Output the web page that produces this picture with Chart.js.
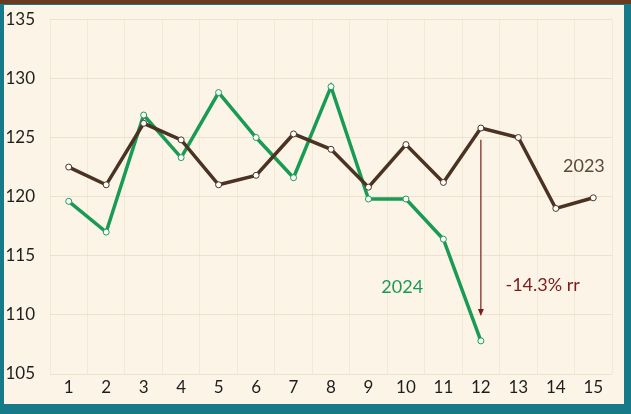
<!DOCTYPE html>
<html>
<head>
<meta charset="utf-8">
<script src="https://cdn.jsdelivr.net/npm/chart.js@4"></script>
<style>
  html, body { margin: 0; padding: 0; }
  body { width: 631px; height: 414px; background: #177a89; position: relative; overflow: hidden; }
  #topbar { position: absolute; left: 0; top: 0; width: 631px; height: 4px; background: #6a3a1f; }
  #panel { position: absolute; left: 4px; top: 5px; width: 620px; height: 399px; background: #fcf4e7; }
  canvas { position: absolute; left: 0; top: 0; }
</style>
</head>
<body>
<div id="topbar"></div>
<div id="panel"></div>
<canvas id="chart" width="631" height="414"></canvas>
<script>
  // ---- data ----
  const months = ["1","2","3","4","5","6","7","8","9","10","11","12","13","14","15"];
  const values2023 = [122.5, 121.0, 126.2, 124.8, 121.0, 121.8, 125.3, 124.0, 120.8, 124.4, 121.2, 125.8, 125.0, 119.0, 119.9];
  const values2024 = [119.6, 117.0, 126.9, 123.3, 128.8, 125.0, 121.6, 129.3, 119.8, 119.8, 116.4, 107.8];
  const yTicks = [105, 110, 115, 120, 125, 130, 135];

  const brown = "#4a3322";
  const green = "#1a9b55";
  const arrowRed = "#7a1c1c";
  const tickFont = { size: 17, family: "Lato, sans-serif" };

  /* ========= annotations (labels + arrow) ========= */
  const notes = {
    id: "notes",
    afterDatasetsDraw(chart) {
      const { ctx, scales: { x, y } } = chart;
      ctx.save();
      // arrow at point 12
      const ax = x.getPixelForValue(11);
      const y0 = y.getPixelForValue(124.8);
      const y1 = y.getPixelForValue(110.0);
      ctx.strokeStyle = arrowRed;
      ctx.fillStyle = arrowRed;
      ctx.lineWidth = 1.2;
      ctx.beginPath();
      ctx.moveTo(ax, y0);
      ctx.lineTo(ax, y1 - 4);
      ctx.stroke();
      ctx.beginPath();
      ctx.moveTo(ax, y1 + 1);
      ctx.lineTo(ax - 3, y1 - 6);
      ctx.lineTo(ax + 3, y1 - 6);
      ctx.closePath();
      ctx.fill();

      ctx.font = "18px Lato, sans-serif";
      ctx.textAlign = "center";
      ctx.textBaseline = "middle";
      ctx.fillStyle = "#5a4a3c";
      ctx.fillText("2023", x.getPixelForValue(13.75), y.getPixelForValue(122.6));
      ctx.fillStyle = green;
      ctx.fillText("2024", x.getPixelForValue(8.9), y.getPixelForValue(112.3));
      ctx.fillStyle = arrowRed;
      ctx.fillText("-14.3% rr", x.getPixelForValue(12.65), y.getPixelForValue(112.5));
      ctx.restore();
    }
  };

  new Chart(document.getElementById("chart"), {
    type: "line",
    data: {
      labels: months,
      datasets: [
        {
          label: "2023",
          data: values2023,
          borderColor: brown,
          borderWidth: 3.5,
          tension: 0,
          pointRadius: 3,
          pointBackgroundColor: "#ffffff",
          pointBorderColor: brown,
          pointBorderWidth: 1
        },
        {
          label: "2024",
          data: values2024,
          borderColor: green,
          borderWidth: 3.5,
          tension: 0,
          pointRadius: 3,
          pointBackgroundColor: "#ffffff",
          pointBorderColor: green,
          pointBorderWidth: 1
        }
      ]
    },
    options: {
      responsive: false,
      animation: false,
      layout: { padding: { top: 4, right: 19, left: 0, bottom: 0 } },
      plugins: { legend: { display: false }, tooltip: { enabled: false } },
      scales: {
        x: {
          offset: true,
          grid: { offset: true, color: "rgba(215,200,170,0.25)", drawTicks: false },
          border: { display: false },
          ticks: { color: "#1e1e1e", font: tickFont, padding: 3 },
          afterFit(s) { s.height = 40; }
        },
        y: {
          min: 105,
          max: 135,
          afterBuildTicks(s) { s.ticks = yTicks.map(v => ({ value: v })); },
          grid: { color: "rgba(215,200,170,0.4)", drawTicks: false },
          border: { display: false },
          // small lineHeight keeps the top label padding close to the reference
          ticks: { color: "#1e1e1e", font: { size: 17, family: "Lato, sans-serif", lineHeight: 0.5 }, padding: 15 },
          afterFit(s) { s.width = 50; }
        }
      }
    },
    plugins: [notes]
  });
</script>
</body>
</html>
